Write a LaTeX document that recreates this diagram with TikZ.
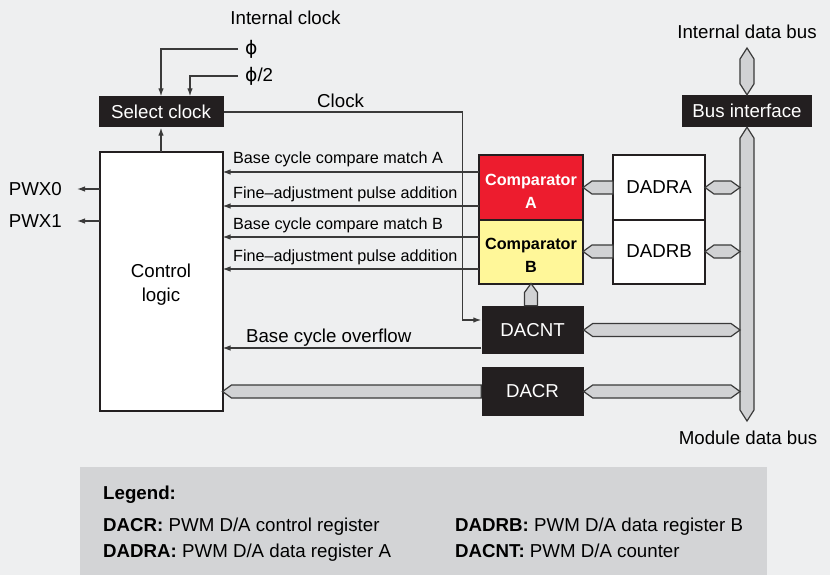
\documentclass[tikz,border=0pt]{standalone}
\usepackage{fontspec}
\setmainfont{Liberation Sans}
\newfontfamily\phifont{DejaVu Sans}
\usetikzlibrary{arrows.meta,positioning,calc}

\definecolor{bgcol}{RGB}{238,239,240}
\definecolor{legcol}{RGB}{211,212,214}
\definecolor{boxblack}{RGB}{35,31,32}
\definecolor{linecol}{RGB}{58,58,58}
\definecolor{cmpred}{RGB}{237,28,46}
\definecolor{cmpyellow}{RGB}{255,247,153}
\definecolor{busgray}{RGB}{209,210,212}

\newcommand{\bigfont}{\fontsize{18.7}{24}\selectfont}
\newcommand{\smallfont}{\fontsize{16.2}{23}\selectfont}

\tikzset{
  blackbox/.style={fill=boxblack, text=white, inner sep=0pt, font=\bigfont},
  whitebox/.style={draw=boxblack, fill=white, line width=2pt, inner sep=0pt, outer sep=0pt, font=\bigfont, align=center},
  cmpbox/.style={draw=boxblack, line width=2pt, inner sep=0pt, outer sep=0pt, minimum width=104pt, minimum height=64pt},
  cmptext/.style={font=\smallfont\bfseries, align=center, inner sep=0pt, yshift=-4pt},
  sig/.style={draw=linecol, line width=1.2pt, -{Latex[length=8pt,width=5.5pt]}},
  siglabel/.style={anchor=base west, inner sep=0pt, xshift=10pt, yshift=8pt, font=\smallfont},
  philabel/.style={anchor=west, inner xsep=7pt, inner ysep=1pt, font=\bigfont},
  outlabel/.style={anchor=east, inner xsep=15pt, inner ysep=1pt, font=\bigfont},
  legtext/.style={anchor=base west, inner sep=0pt, font=\bigfont},
  bus/.style={draw=linecol, fill=busgray, line width=1.2pt, line join=miter},
  % horizontal bus, heads at both ends
  hbustwo/.style={bus, to path={-- ($(\tikztostart)+(9pt,6.5pt)$) -- ($(\tikztotarget)+(-9pt,6.5pt)$) -- (\tikztotarget) -- ($(\tikztotarget)+(-9pt,-6.5pt)$) -- ($(\tikztostart)+(9pt,-6.5pt)$) -- cycle}},
  % horizontal bus, head at the (left) start
  hbusone/.style={bus, to path={-- ($(\tikztostart)+(9pt,6.5pt)$) -- ($(\tikztotarget)+(0pt,6.5pt)$) -- ($(\tikztotarget)+(0pt,-6.5pt)$) -- ($(\tikztostart)+(9pt,-6.5pt)$) -- cycle}},
  % vertical bus, heads at both ends (start on top)
  vbustwo/.style={bus, to path={-- ($(\tikztostart)+(7pt,-11pt)$) -- ($(\tikztotarget)+(7pt,11pt)$) -- (\tikztotarget) -- ($(\tikztotarget)+(-7pt,11pt)$) -- ($(\tikztostart)+(-7pt,-11pt)$) -- cycle}},
  % vertical bus, head at the (top) start
  vbusone/.style={bus, to path={-- ($(\tikztostart)+(6.5pt,-9pt)$) -- ($(\tikztotarget)+(6.5pt,0pt)$) -- ($(\tikztotarget)+(-6.5pt,0pt)$) -- ($(\tikztostart)+(-6.5pt,-9pt)$) -- cycle}}
}

\begin{document}
\begin{tikzpicture}[x=1pt,y=-1pt]
  \useasboundingbox (0,0) rectangle (830,575);
  % Background
  \fill[bgcol] (0,0) rectangle (830,575);

  % Clock selection
  \node[font=\bigfont] (intclk) at (285.5,18) {Internal clock};
  \node[philabel] (phi) at (238,49) {{\phifont ϕ}};
  \node[philabel] (phihalf) at (238,76) {{\phifont ϕ}/2};
  \node[blackbox, minimum width=125pt, minimum height=31pt] (sel) at (161,112) {Select clock};
  \draw[sig] (phi.west) -| (sel.north);
  \draw[sig] (phihalf.west) -| ([xshift=29pt]sel.north);

  % Control logic and its outputs
  \node[whitebox, minimum width=123pt, minimum height=259pt, label={[name=ctrltext, align=center, font=\bigfont, yshift=-3pt]center:Control\\logic}] (ctrl) at (161,281.5) {};
  \draw[sig] (ctrl.north) -- (sel.south);
  \node[outlabel] (pwx0) at (77,189) {PWX0};
  \node[outlabel] (pwx1) at (77,221) {PWX1};
  \draw[sig] (ctrl.west |- pwx0.east) -- (pwx0.east);
  \draw[sig] (ctrl.west |- pwx1.east) -- (pwx1.east);

  % Comparators and data registers
  \node[cmpbox, fill=cmpred, label={[name=cmpAtext, cmptext, text=white]center:Comparator\\A}] (cmpA) at (531,187.5) {};
  \node[cmpbox, fill=cmpyellow, below=0pt of cmpA, label={[name=cmpBtext, cmptext]center:Comparator\\B}] (cmpB) {};
  \node[whitebox, minimum width=92pt, minimum height=64pt] (dadra) at (659,187.5) {DADRA};
  \node[whitebox, minimum width=92pt, minimum height=64pt, below=0pt of dadra] (dadrb) {DADRB};

  % Counter and control register
  \node[blackbox, minimum width=102pt, minimum height=48pt] (dacnt) at (532.5,330) {DACNT};
  \node[blackbox, minimum width=102pt, minimum height=49pt] (dacr) at (532.5,391.5) {DACR};

  % Bus interface and data buses
  \node[blackbox, minimum width=130pt, minimum height=32pt] (busif) at (747,111) {Bus interface};
  \node[font=\bigfont] (intbus) at (747,32) {Internal data bus};
  \node[font=\bigfont] (modbus) at (748,438) {Module data bus};
  \coordinate (ibtop) at (747,48);
  \coordinate (mbot) at (747,421);
  \coordinate (spineL) at (740,421);
  \draw[vbustwo] (ibtop) to (busif.north);
  \draw[vbustwo] (busif.south) to (mbot);
  \draw[hbusone] (cmpA.east) to (dadra.west);
  \draw[hbusone] (cmpB.east) to (dadrb.west);
  \draw[hbustwo] (dadra.east) to (dadra.east -| spineL);
  \draw[hbustwo] (dadrb.east) to (dadrb.east -| spineL);
  \draw[hbustwo] (dacnt.east) to (dacnt.east -| spineL);
  \draw[hbustwo] (dacr.east) to (dacr.east -| spineL);
  \draw[hbusone] (ctrl.east |- dacr.west) to (dacr.west);
  \draw[vbusone] (cmpB.south) to (cmpB.south |- dacnt.north);

  % Signals from the comparators
  \coordinate (mA) at ([yshift=-16.5pt]cmpA.north west);
  \coordinate (fA) at ([yshift=13.5pt]cmpA.south west);
  \coordinate (mB) at ([yshift=-17.5pt]cmpB.north west);
  \coordinate (fB) at ([yshift=14.5pt]cmpB.south west);
  \draw[sig] (mA) -- (mA -| ctrl.east) node[siglabel] {Base cycle compare match A};
  \draw[sig] (fA) -- (fA -| ctrl.east) node[siglabel] {Fine–adjustment pulse addition};
  \draw[sig] (mB) -- (mB -| ctrl.east) node[siglabel] {Base cycle compare match B};
  \draw[sig] (fB) -- (fB -| ctrl.east) node[siglabel] {Fine–adjustment pulse addition};

  % Overflow and clock
  \coordinate (ovf) at ([yshift=-18pt]dacnt.west);
  \draw[sig] (ovf) -- (ovf -| ctrl.east) node[anchor=base west, inner sep=0pt, xshift=23pt, yshift=5.5pt, font=\bigfont] {Base cycle overflow};
  \coordinate (clkin) at ([yshift=10pt]dacnt.west);
  \draw[sig] (sel.east) -| ([xshift=-19pt]clkin) node[pos=0.245, above, inner sep=4pt, font=\bigfont] {Clock} -- (clkin);

  % Legend
  \fill[legcol] (80,467) rectangle (767,575);
  \node[legtext, font=\bigfont\bfseries] (legtitle) at (103,499) {Legend:};
  \node[legtext] (legdacr) at (103,531) {\textbf{DACR:} PWM D/A control register};
  \node[legtext] (legdadra) at (103,557) {\textbf{DADRA:} PWM D/A data register A};
  \node[legtext] (legdadrb) at (455,531) {\textbf{DADRB:} PWM D/A data register B};
  \node[legtext] (legdacnt) at (455,557) {\textbf{DACNT:} PWM D/A counter};
\end{tikzpicture}
\end{document}
